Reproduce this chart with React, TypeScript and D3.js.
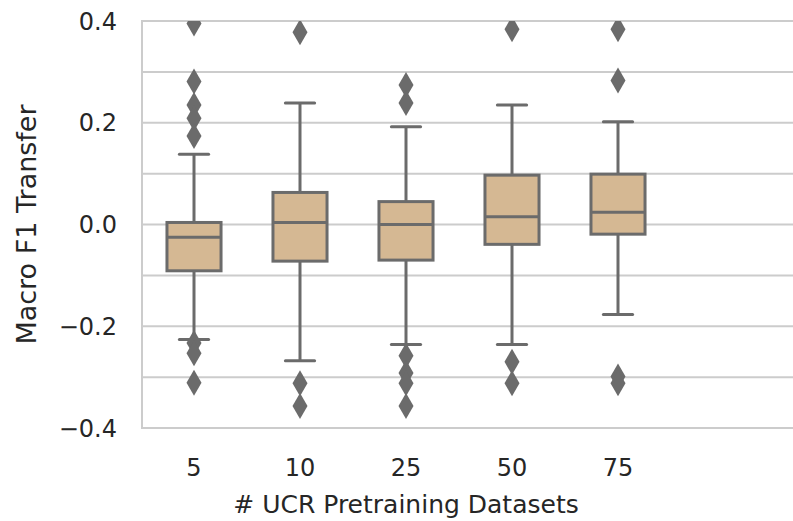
import React, { useEffect, useRef } from "react";
import * as d3 from "d3";

// box statistics
const categories = ["5", "10", "25", "50", "75"];
const whiskerLow = [-0.226, -0.268, -0.236, -0.236, -0.177];
const q1 = [-0.091, -0.072, -0.07, -0.039, -0.019];
const median = [-0.025, 0.004, 0.0, 0.015, 0.024];
const q3 = [0.004, 0.063, 0.045, 0.097, 0.099];
const whiskerHigh = [0.138, 0.239, 0.192, 0.235, 0.202];
const fliers = [
  [0.395, 0.281, 0.235, 0.209, 0.174, -0.233, -0.253, -0.311],
  [0.378, -0.312, -0.357],
  [0.274, 0.239, -0.258, -0.292, -0.312, -0.357],
  [0.384, -0.27, -0.312],
  [0.384, 0.283, -0.299, -0.312],
];
const gridValues = [-0.4, -0.3, -0.2, -0.1, 0, 0.1, 0.2, 0.3, 0.4];
const tickValues = [-0.4, -0.2, 0, 0.2, 0.4];

const W = 793;
const H = 521;
const FONT = "DejaVu Sans, sans-serif";
const TEXT = "#262626";
const LINE = "#6b6b6b";
const FILL = "#d5b893";
const GRID = "#cccccc";

const drawChart = (node: SVGSVGElement) => {
  const svg = d3.select(node);
  svg.selectAll("*").remove();

  const left = 142;
  const top = 21;
  const bottom = 428;

  const x = d3.scaleBand<string>().domain(categories).range([141, 141 + 106 * 5]);
  const y = d3.scaleLinear().domain([-0.4, 0.4]).range([bottom, top]);

  svg
    .append("defs")
    .append("clipPath")
    .attr("id", "plotclip")
    .append("rect")
    .attr("x", left)
    .attr("y", top)
    .attr("width", W - left)
    .attr("height", bottom - top);

  // grid
  svg
    .append("g")
    .selectAll("line")
    .data(gridValues)
    .enter()
    .append("line")
    .attr("x1", left)
    .attr("x2", W)
    .attr("y1", (d) => y(d))
    .attr("y2", (d) => y(d))
    .attr("stroke", GRID)
    .attr("stroke-width", 2);

  // left spine
  svg
    .append("line")
    .attr("x1", left)
    .attr("x2", left)
    .attr("y1", top - 1)
    .attr("y2", bottom + 1)
    .attr("stroke", GRID)
    .attr("stroke-width", 2);

  // y tick labels
  svg
    .append("g")
    .selectAll("text")
    .data(tickValues)
    .enter()
    .append("text")
    .attr("x", 117)
    .attr("y", (d) => y(d))
    .attr("dy", "0.36em")
    .attr("text-anchor", "end")
    .attr("font-family", FONT)
    .attr("font-size", 24)
    .attr("fill", TEXT)
    .text((d) => d3.format(".1f")(d).replace("-", "\u2212"));

  // x tick labels
  svg
    .append("g")
    .selectAll("text")
    .data(categories)
    .enter()
    .append("text")
    .attr("x", (d) => x(d)! + x.bandwidth() / 2)
    .attr("y", 476)
    .attr("text-anchor", "middle")
    .attr("font-family", FONT)
    .attr("font-size", 24)
    .attr("fill", TEXT)
    .text((d) => d);

  // axis labels
  svg
    .append("text")
    .attr("transform", "translate(36," + (top + bottom) / 2 + ") rotate(-90)")
    .attr("text-anchor", "middle")
    .attr("font-family", FONT)
    .attr("font-size", 27)
    .attr("fill", TEXT)
    .text("Macro F1 Transfer");

  svg
    .append("text")
    .attr("x", 141 + (106 * 5) / 2)
    .attr("y", 513)
    .attr("text-anchor", "middle")
    .attr("font-family", FONT)
    .attr("font-size", 25)
    .attr("fill", TEXT)
    .text("# UCR Pretraining Datasets");

  const boxW = x.bandwidth() * 0.51;
  const capW = boxW * 0.54;

  const g = svg.append("g").attr("clip-path", "url(#plotclip)");

  categories.forEach((c, i) => {
    const cx = x(c)! + x.bandwidth() / 2;
    const grp = g.append("g");

    // whiskers
    grp
      .append("line")
      .attr("x1", cx)
      .attr("x2", cx)
      .attr("y1", y(q3[i]))
      .attr("y2", y(whiskerHigh[i]))
      .attr("stroke", LINE)
      .attr("stroke-width", 3);
    grp
      .append("line")
      .attr("x1", cx)
      .attr("x2", cx)
      .attr("y1", y(q1[i]))
      .attr("y2", y(whiskerLow[i]))
      .attr("stroke", LINE)
      .attr("stroke-width", 3);

    // caps
    [whiskerHigh[i], whiskerLow[i]].forEach((v) => {
      grp
        .append("line")
        .attr("x1", cx - capW / 2)
        .attr("x2", cx + capW / 2)
        .attr("y1", y(v))
        .attr("y2", y(v))
        .attr("stroke", LINE)
        .attr("stroke-width", 3)
        .attr("stroke-linecap", "round");
    });

    // box
    grp
      .append("rect")
      .attr("x", cx - boxW / 2)
      .attr("y", y(q3[i]))
      .attr("width", boxW)
      .attr("height", y(q1[i]) - y(q3[i]))
      .attr("fill", FILL)
      .attr("stroke", LINE)
      .attr("stroke-width", 3);

    // median
    grp
      .append("line")
      .attr("x1", cx - boxW / 2)
      .attr("x2", cx + boxW / 2)
      .attr("y1", y(median[i]))
      .attr("y2", y(median[i]))
      .attr("stroke", LINE)
      .attr("stroke-width", 3);

    // fliers (thin diamonds)
    grp
      .selectAll("path.flier")
      .data(fliers[i])
      .enter()
      .append("path")
      .attr("class", "flier")
      .attr("d", (v) => {
        const py = y(v);
        return `M${cx},${py - 13}L${cx + 7.5},${py}L${cx},${py + 13}L${cx - 7.5},${py}Z`;
      })
      .attr("fill", LINE);
  });
};

const App = () => {
  const ref = useRef<SVGSVGElement>(null);
  useEffect(() => {
    if (ref.current) drawChart(ref.current);
  });
  return (
    <div id="content">
      <svg
        ref={ref}
        width={W}
        height={H}
        style={{ position: "absolute", left: 0, top: 0, background: "#fff" }}
      />
    </div>
  );
};

export default App;
